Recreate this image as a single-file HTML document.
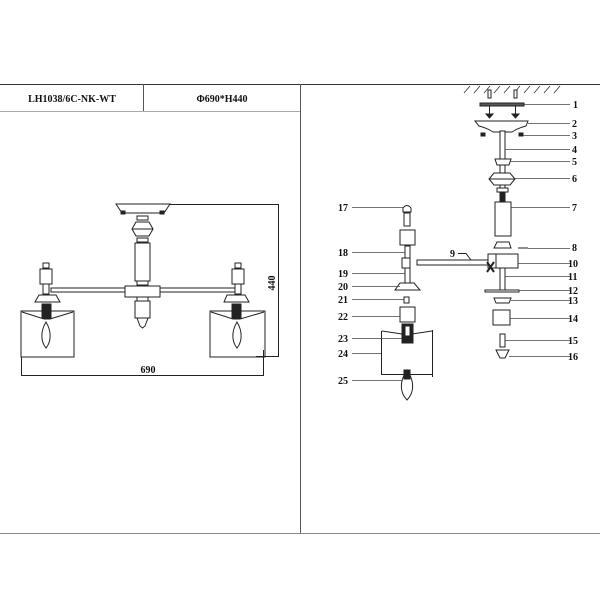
<!DOCTYPE html>
<html><head><meta charset="utf-8"><style>
html,body{margin:0;padding:0;background:#fff;width:600px;height:600px;overflow:hidden}
svg{display:block}
text{font-family:"Liberation Serif",serif;font-weight:bold;fill:#111}
</style></head><body>
<svg width="600" height="600" viewBox="0 0 600 600" xmlns="http://www.w3.org/2000/svg">
<g stroke="#555" stroke-width="1" fill="none">
<line x1="0" y1="84.5" x2="600" y2="84.5" stroke="#333"/>
<line x1="143.5" y1="84" x2="143.5" y2="111"/>
<line x1="300.5" y1="84" x2="300.5" y2="533"/>
<line x1="0" y1="111.5" x2="300" y2="111.5" stroke="#aaa"/>
<line x1="0" y1="533.5" x2="600" y2="533.5" stroke="#888"/>
</g>
<text x="72" y="102" font-size="10" text-anchor="middle">LH1038/6C-NK-WT</text>
<text x="222" y="102" font-size="10" text-anchor="middle">Φ690*H440</text>

<!-- LEFT ASSEMBLY -->
<g stroke="#222" stroke-width="1" fill="#fff">
<polygon points="116,204 170,204 164,213 122,213"/>
<rect x="121" y="211" width="4" height="3" fill="#222"/><rect x="160" y="211" width="4" height="3" fill="#222"/>
<rect x="137" y="216" width="11" height="4"/>
<polygon points="136,222 149,222 153,229 149,236 136,236 132,229"/>
<line x1="132" y1="229" x2="153" y2="229"/>
<rect x="137" y="238" width="11" height="4"/>
<rect x="135" y="243" width="15" height="38"/>
<rect x="137" y="281" width="11" height="4"/>
<rect x="51" y="288" width="184" height="4"/>
<rect x="125" y="286" width="35" height="11"/>
<rect x="137" y="297" width="11" height="4"/>
<rect x="135" y="301" width="15" height="17"/>
<path d="M137,318 L148,318 L145,326 L142.5,328 L140,326 Z"/>
<rect x="43" y="263" width="6" height="5"/>
<rect x="40" y="269" width="12" height="15"/>
<rect x="43" y="284" width="6" height="10"/>
<polygon points="39,295 56,295 60,302 35,302"/>
<rect x="42" y="304" width="9" height="14" fill="#222"/>
<rect x="21" y="311" width="53" height="46" fill="none"/>
<polyline points="22,312 44,319 50,319 73,312" fill="none"/>
<path d="M46,322 C40,332 41,342 46,348 C51,342 52,332 46,322 Z"/>
<rect x="235" y="263" width="6" height="5"/>
<rect x="232" y="269" width="12" height="15"/>
<rect x="235" y="284" width="6" height="10"/>
<polygon points="227,295 245,295 249,302 224,302"/>
<rect x="232" y="304" width="9" height="14" fill="#222"/>
<rect x="210" y="311" width="55" height="46" fill="none"/>
<polyline points="211,312 233,319 240,319 264,312" fill="none"/>
<path d="M237,322 C231,332 232,342 237,348 C242,342 243,332 237,322 Z"/>
</g>
<g stroke="#222" stroke-width="1" fill="none">
<polyline points="170,204.5 278.5,204.5 278.5,356.5 256,356.5"/>
<polyline points="21.5,357 21.5,375.5 263.5,375.5 263.5,350"/>
</g>
<text x="148" y="373" font-size="10" text-anchor="middle">690</text>
<text x="0" y="0" font-size="10" text-anchor="middle" transform="translate(275,283) rotate(-90)">440</text>

<!-- RIGHT EXPLODED -->
<g stroke="#333" stroke-width="0.8">
<line x1="464" y1="93" x2="470" y2="86"/><line x1="474" y1="93" x2="480" y2="86"/><line x1="484" y1="93" x2="490" y2="86"/><line x1="494" y1="93" x2="500" y2="86"/><line x1="504" y1="93" x2="510" y2="86"/><line x1="514" y1="93" x2="520" y2="86"/><line x1="524" y1="93" x2="530" y2="86"/><line x1="534" y1="93" x2="540" y2="86"/><line x1="544" y1="93" x2="550" y2="86"/><line x1="554" y1="93" x2="560" y2="86"/>
</g>
<g stroke="#222" stroke-width="1" fill="#fff">
<rect x="488" y="90" width="3" height="8"/><rect x="514" y="90" width="3" height="8"/>
<rect x="480" y="103" width="44" height="3" fill="#555"/>
<line x1="489.5" y1="106" x2="489.5" y2="116"/><line x1="515.5" y1="106" x2="515.5" y2="116"/>
<polygon points="486,114 493,114 489.5,118" fill="#222"/><polygon points="512,114 519,114 515.5,118" fill="#222"/>
<path d="M475,121 L528,121 L526,126 Q518,128 512,132 L493,132 Q487,128 479,126 Z"/>
<rect x="481" y="133" width="4" height="3" fill="#222"/><rect x="519" y="133" width="4" height="3" fill="#222"/>
<rect x="500" y="131" width="5" height="58"/>
<polygon points="495,159 511,159 509,165 497,165"/>
<polygon points="494,173 510,173 515,179 510,185 494,185 489,179"/>
<line x1="489" y1="179" x2="515" y2="179"/>
<rect x="497" y="188" width="11" height="4"/>
<rect x="500" y="192" width="5" height="10" fill="#222"/>
<rect x="495" y="202" width="16" height="34"/>
<polygon points="497,242 509,242 511,248 494,248"/>
<rect x="488" y="254" width="30" height="14"/>
<rect x="417" y="260" width="71" height="5"/>
<line x1="496" y1="254" x2="496" y2="268"/>
<line x1="487" y1="262" x2="494" y2="272" stroke-width="2"/><line x1="494" y1="262" x2="487" y2="272" stroke-width="2"/>
<rect x="500" y="268" width="5" height="22"/>
<rect x="485" y="290" width="34" height="2"/>
<polygon points="494,298 511,298 509,303 496,303"/>
<rect x="493" y="310" width="17" height="15"/>
<rect x="500" y="334" width="5" height="13"/>
<polygon points="496,350 509,350 505,358 500,358"/>
<path d="M403,212 L403,208 Q407,203 411,208 L411,212 Z"/>
<rect x="404" y="213" width="6" height="13"/>
<rect x="400" y="230" width="15" height="15"/>
<rect x="405" y="246" width="5" height="44"/>
<rect x="402" y="258" width="8" height="10"/>
<polygon points="400,283 414,283 420,290 395,290"/>
<rect x="404" y="297" width="5" height="6"/>
<rect x="400" y="307" width="15" height="15"/>
<polyline points="382,331 402,334 412,334 432,331" fill="none"/>
<rect x="402" y="324" width="11" height="19" fill="#222"/>
<rect x="405" y="326" width="5" height="10" fill="#fff"/>
<path d="M407,370 C400,380 399,392 407,400 C415,392 414,380 407,370 Z"/>
<rect x="404" y="370" width="6" height="9" fill="#222"/>
</g>
<g stroke="#222" stroke-width="1" fill="none">
<polyline points="381.5,331 381.5,374.5 432,374.5"/>
<line x1="432.5" y1="330" x2="432.5" y2="377"/>
<polyline points="458,253.5 466,253.5 471,260"/>
<line x1="518" y1="248" x2="528" y2="248"/>
</g>
<g stroke="#444" stroke-width="0.8">
<line x1="524" y1="104.5" x2="570" y2="104.5"/>
<line x1="528" y1="123.5" x2="570" y2="123.5"/>
<line x1="523" y1="135.5" x2="570" y2="135.5"/>
<line x1="505" y1="149.5" x2="570" y2="149.5"/>
<line x1="510" y1="161.5" x2="570" y2="161.5"/>
<line x1="515" y1="178.5" x2="570" y2="178.5"/>
<line x1="511" y1="207.5" x2="570" y2="207.5"/>
<line x1="528" y1="248.5" x2="570" y2="248.5"/>
<line x1="518" y1="263.5" x2="570" y2="263.5"/>
<line x1="505" y1="276.5" x2="570" y2="276.5"/>
<line x1="519" y1="290.5" x2="570" y2="290.5"/>
<line x1="511" y1="300.5" x2="570" y2="300.5"/>
<line x1="510" y1="318.5" x2="570" y2="318.5"/>
<line x1="505" y1="340.5" x2="570" y2="340.5"/>
<line x1="509" y1="356.5" x2="570" y2="356.5"/>
<line x1="352" y1="207.5" x2="403" y2="207.5"/>
<line x1="352" y1="252.5" x2="405" y2="252.5"/>
<line x1="352" y1="273.5" x2="405" y2="273.5"/>
<line x1="352" y1="286.5" x2="400" y2="286.5"/>
<line x1="352" y1="299.5" x2="404" y2="299.5"/>
<line x1="352" y1="316.5" x2="400" y2="316.5"/>
<line x1="352" y1="338.5" x2="402" y2="338.5"/>
<line x1="352" y1="353.5" x2="381" y2="353.5"/>
<line x1="352" y1="380.5" x2="402" y2="380.5"/>
</g>
<g font-size="10">
<text x="573" y="108">1</text><text x="572" y="127">2</text><text x="572" y="139">3</text><text x="572" y="153">4</text>
<text x="572" y="165">5</text><text x="572" y="182">6</text><text x="572" y="211">7</text><text x="572" y="251">8</text>
<text x="568" y="267">10</text><text x="568" y="280">11</text><text x="568" y="294">12</text><text x="568" y="304">13</text>
<text x="568" y="322">14</text><text x="568" y="344">15</text><text x="568" y="360">16</text>
<text x="450" y="257">9</text>
<text x="338" y="211">17</text><text x="338" y="256">18</text><text x="338" y="277">19</text><text x="338" y="290">20</text>
<text x="338" y="303">21</text><text x="338" y="320">22</text><text x="338" y="342">23</text><text x="338" y="357">24</text><text x="338" y="384">25</text>
</g>
</svg>
</body></html>
